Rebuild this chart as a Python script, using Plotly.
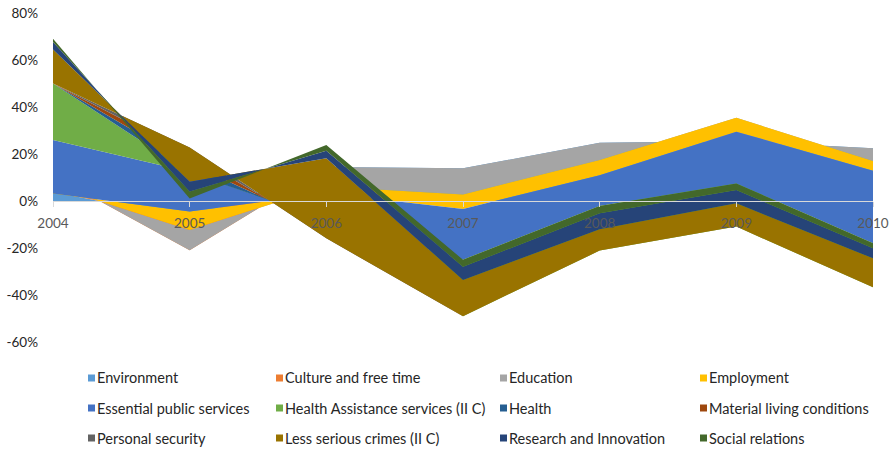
import plotly.graph_objects as go

# Category axis
years = ["2004", "2005", "2006", "2007", "2008", "2009", "2010"]

# Yearly changes per domain (percent), stacked in legend order
environment = [3.8, -7.4, 14.5, 13.9, 24.8, 25.5, 22.4]
culture = [7.0, -13.6, 0.0, 0.0, 0.0, 0.0, 0.0]
education = [-4.5, 8.7, -8.3, -11.1, -7.4, 9.9, -5.4]
employment = [-3.1, 7.8, -2.9, -6.2, -6.4, -5.9, -4.1]
essential_services = [22.8, 16.8, -11.3, -21.6, -13.1, -22.0, -30.9]
health_assistance = [24.0, -0.3, 0.0, -24.0, -19.0, -18.4, -18.7]
health = [0.0, 4.0, -3.0, 0.0, 0.0, 0.0, 0.0]
material_conditions = [0.0, 4.0, -3.0, 0.0, 0.0, 0.0, 0.0]
personal_security = [0.0, 2.8, -1.9, 0.0, 0.0, 0.0, 0.0]
less_serious_crimes = [14.5, -14.6, 34.1, 15.4, 9.1, 9.9, 12.3]
research = [3.2, -4.2, 3.2, 5.6, 6.8, 5.7, 4.3]
social_relations = [1.3, -2.9, 2.4, 3.0, 3.1, 2.8, 2.1]

series_names = [
    "Environment", "Culture and free time", "Education", "Employment",
    "Essential public services", "Health Assistance services (II C)", "Health",
    "Material living conditions", "Personal security", "Less serious crimes (II C)",
    "Research and Innovation", "Social relations",
]
series_values = [
    environment, culture, education, employment, essential_services,
    health_assistance, health, material_conditions, personal_security,
    less_serious_crimes, research, social_relations,
]
series_colors = [
    "#5B9BD5", "#ED7D31", "#A5A5A5", "#FFC000", "#4472C4", "#70AD47",
    "#255E91", "#9E480E", "#636363", "#997300", "#264478", "#43682B",
]

# Value axis ticks
y_tickvals = [-0.6, -0.4, -0.2, 0.0, 0.2, 0.4, 0.6, 0.8]
y_ticktext = ["-60%", "-40%", "-20%", "0%", "20%", "40%", "60%", "80%"]

FONT = "Lato"
W, H = 893, 449
M_L, M_R, M_T, M_B = 53, 20, 13, 107
PLOT_W = W - M_L - M_R
PLOT_H = H - M_T - M_B

fig = go.Figure()
for name, vals, col in zip(series_names, series_values, series_colors):
    fig.add_trace(go.Scatter(
        x=years,
        y=[v / 100 for v in vals],
        name=name,
        stackgroup="one",
        mode="lines",
        line=dict(width=0, color=col),
        fillcolor=col,
        showlegend=False,
        hoverinfo="x+y+name",
    ))

y_min, y_max = -0.6, 0.8
zero_pos = (0 - y_min) / (y_max - y_min)

fig.update_layout(
    width=W, height=H,
    margin=dict(l=M_L, r=M_R, t=M_T, b=M_B, autoexpand=False),
    paper_bgcolor="white",
    plot_bgcolor="white",
    font=dict(family=FONT, size=13, color="#262626"),
    xaxis=dict(
        type="category",
        range=[0, len(years) - 1],
        anchor="free",
        position=zero_pos,
        automargin=False,
        showline=True,
        linecolor="#D9D9D9",
        linewidth=1,
        ticks="outside",
        ticklen=5,
        tickcolor="#D9D9D9",
        showgrid=False,
        zeroline=False,
        tickfont=dict(family=FONT, size=13.5, color="#595959"),
        ticklabelstandoff=5,
        layer="above traces",
    ),
    yaxis=dict(
        range=[y_min, y_max],
        domain=[0, 1],
        automargin=False,
        tickvals=y_tickvals,
        ticktext=y_ticktext,
        showgrid=False,
        zeroline=False,
        showline=False,
        ticks="",
        tickfont=dict(family=FONT, size=13.5, color="#262626"),
        ticklabelstandoff=14,
    ),
)

# Legend laid out as a 4-column grid below the plot
col_text_px = [97, 285, 509, 709]
row_px = [378, 408, 438]
shapes = []
annotations = []
for i, (name, col) in enumerate(zip(series_names, series_colors)):
    r, c = divmod(i, 4)
    x_text = (col_text_px[c] - M_L) / PLOT_W
    y_row = (M_T + PLOT_H - row_px[r]) / PLOT_H
    shapes.append(dict(
        type="rect", xref="paper", yref="paper",
        xsizemode="pixel", ysizemode="pixel",
        xanchor=x_text, yanchor=y_row,
        x0=-9, x1=-2, y0=-3.5, y1=3.5,
        fillcolor=col, line=dict(width=0),
    ))
    annotations.append(dict(
        text=name, xref="paper", yref="paper",
        x=x_text, y=y_row, xanchor="left", yanchor="middle",
        xshift=-1, borderpad=0,
        showarrow=False, font=dict(family=FONT, size=14.5, color="#262626"),
    ))
fig.update_layout(shapes=shapes, annotations=annotations)

fig.write_html("out.html")
